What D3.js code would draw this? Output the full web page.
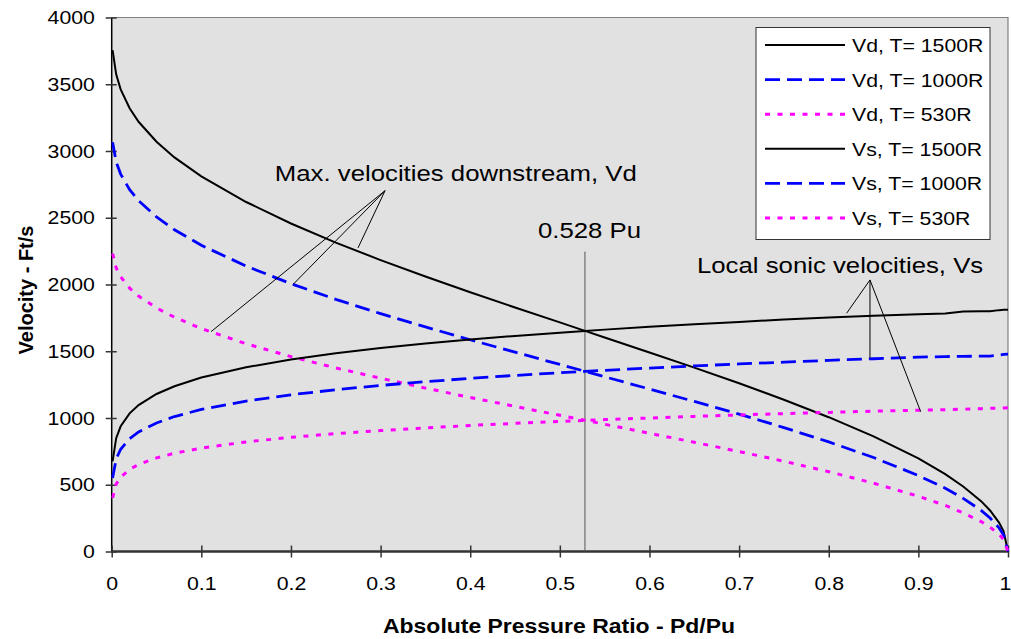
<!DOCTYPE html>
<html>
<head>
<meta charset="utf-8">
<script src="https://cdn.jsdelivr.net/npm/d3@7"></script>
<style>
  body { margin: 0; background: #fff; }
  svg { display: block; font-family: "Liberation Sans", Arial, sans-serif; }
</style>
</head>
<body>
<script>
// pressure ratio Pd/Pu, shared by every series
var ratio = [0.001, 0.005, 0.01, 0.02, 0.03, 0.05, 0.07, 0.1, 0.15, 0.2, 0.25, 0.3, 0.35, 0.4, 0.45, 0.5, 0.528, 0.55, 0.6, 0.65, 0.7, 0.75, 0.8, 0.85, 0.9, 0.93, 0.95, 0.97, 0.98, 0.99, 0.995, 1]

// max velocities downstream, Vd (ft/s)
var vd1500 = [3755, 3574, 3462, 3320, 3219, 3069, 2952, 2810, 2618, 2457, 2314, 2183, 2060, 1942, 1828, 1716, 1653, 1603, 1491, 1377, 1260, 1137, 1006, 862, 697, 580, 487, 377, 307, 217, 153, 0]
var vd1000 = [3066, 2918, 2827, 2711, 2628, 2506, 2410, 2294, 2138, 2006, 1889, 1782, 1682, 1586, 1493, 1401, 1350, 1309, 1217, 1124, 1029, 928, 821, 704, 569, 474, 398, 308, 251, 177, 125, 0]
var vd530 = [2232, 2124, 2058, 1973, 1913, 1824, 1755, 1670, 1556, 1460, 1375, 1298, 1224, 1154, 1087, 1020, 983, 953, 886, 818, 749, 676, 598, 512, 414, 345, 289, 224, 182, 129, 91, 0]

// local sonic velocities, Vs (ft/s)
var vs1500 = [675, 849, 938, 1035, 1097, 1180, 1238, 1303, 1380, 1438, 1485, 1524, 1558, 1588, 1615, 1639, 1652, 1662, 1683, 1702, 1720, 1737, 1753, 1765, 1778, 1782, 1797, 1799, 1800, 1808, 1810, 1810]
var vs1000 = [551, 693, 766, 845, 896, 963, 1011, 1064, 1127, 1174, 1212, 1244, 1272, 1297, 1319, 1339, 1349, 1357, 1374, 1390, 1405, 1418, 1432, 1444, 1456, 1460, 1462, 1463, 1464, 1472, 1476, 1478]
var vs530 = [401, 505, 557, 615, 652, 701, 736, 774, 821, 855, 883, 906, 926, 944, 960, 975, 982, 988, 1000, 1012, 1023, 1033, 1042, 1051, 1058, 1062, 1066, 1070, 1073, 1074, 1075, 1076]

var seriesNames = ["Vd, T= 1500R", "Vd, T= 1000R", "Vd, T= 530R", "Vs, T= 1500R", "Vs, T= 1000R", "Vs, T= 530R"]
var seriesValues = [vd1500, vd1000, vd530, vs1500, vs1000, vs530]
var seriesStyle = ["solid", "dash", "dot", "solid", "dash", "dot"]

var xTicks = [0, 0.1, 0.2, 0.3, 0.4, 0.5, 0.6, 0.7, 0.8, 0.9, 1]
var xTickLabels = ["0", "0.1", "0.2", "0.3", "0.4", "0.5", "0.6", "0.7", "0.8", "0.9", "1"]
var yTicks = [0, 500, 1000, 1500, 2000, 2500, 3000, 3500, 4000]

var criticalRatio = 0.528

// callouts, in data units
var maxNote = { text: "Max. velocities downstream, Vd", x: 0.182, y: 2778, from: [0.305, 2703], to: [[0.1109, 1647], [0.2026, 2002], [0.2748, 2274]] }
var sonicNote = { text: "Local sonic velocities, Vs", x: 0.653, y: 2086, from: [0.846, 2034], to: [[0.82, 1785], [0.846, 1450], [0.9026, 1047]] }
var critNote = { text: "0.528 Pu", x: 0.4756, y: 2349, top: 2246 }

var width = 1011
var height = 639
var margin = { left: 111.7, right: 3, top: 17.5, bottom: 87.5 }
var stretch = "scale(1.12,1)"

var svg = d3.select("body").append("svg")
  .attr("width", width)
  .attr("height", height)

var x = d3.scaleLinear().domain([0, 1]).range([margin.left, width - margin.right])
var y = d3.scaleLinear().domain([0, 4000]).range([height - margin.bottom, margin.top])

var styles = {
  solid: { color: "#000000", w: 2, dash: null },
  dash: { color: "#0000ff", w: 2.8, dash: "15,7" },
  dot: { color: "#ff00ff", w: 3, dash: "5,7.5" }
}

// plot area
svg.append("rect")
  .attr("x", x(0))
  .attr("y", y(4000))
  .attr("width", x(1) - x(0))
  .attr("height", y(0) - y(4000))
  .attr("fill", "#e1e1e1")
svg.append("path")
  .attr("d", "M" + x(0) + "," + y(4000) + "H" + x(1) + "V" + y(0))
  .attr("fill", "none")
  .attr("stroke", "#808080")
  .attr("stroke-width", 1.2)

// axes
var yAxis = svg.append("g")
  .attr("transform", "translate(" + x(0) + ",0)")
  .call(d3.axisLeft(y).tickValues(yTicks).tickSize(6).tickFormat(d3.format("d")))
yAxis.select(".domain").attr("stroke", "#000").attr("stroke-width", 1.5)
  .attr("d", "M0," + y(4000) + "V" + y(0))
yAxis.selectAll(".tick line").attr("x1", 5).attr("x2", -6).attr("stroke", "#333").attr("stroke-width", 1.5)
yAxis.selectAll(".tick text")
  .attr("x", -15)
  .attr("transform", stretch)
  .attr("font-size", 19)
  .attr("fill", "#000")

var xAxis = svg.append("g")
  .attr("transform", "translate(0," + y(0) + ")")
  .call(d3.axisBottom(x).tickValues(xTicks).tickSize(6).tickFormat(function (d, i) { return xTickLabels[i] }))
xAxis.select(".domain").attr("stroke", "#333").attr("stroke-width", 2.5)
  .attr("d", "M" + x(0) + ",0H" + x(1))
xAxis.selectAll(".tick line").attr("y1", -6).attr("y2", 6).attr("stroke", "#333").attr("stroke-width", 1.5)
xAxis.selectAll(".tick text")
  .attr("y", 25)
  .attr("transform", stretch)
  .attr("font-size", 19)
  .attr("fill", "#000")
// the last label sits against the page edge
xAxis.selectAll(".tick text").filter(function (d) { return d === 1 })
  .attr("text-anchor", "end")
  .attr("x", 2.5)

svg.append("text")
  .attr("transform", "translate(559,633)")
  .attr("text-anchor", "middle")
  .attr("font-size", 20)
  .attr("font-weight", "bold")
  .attr("textLength", 352)
  .attr("lengthAdjust", "spacingAndGlyphs")
  .text("Absolute Pressure Ratio - Pd/Pu")

svg.append("text")
  .attr("transform", "translate(33,290) rotate(-90)")
  .attr("text-anchor", "middle")
  .attr("font-size", 20)
  .attr("font-weight", "bold")
  .text("Velocity - Ft/s")

// 0.528 Pu marker
svg.append("line")
  .attr("x1", x(criticalRatio)).attr("x2", x(criticalRatio))
  .attr("y1", y(critNote.top)).attr("y2", y(0))
  .attr("stroke", "#555").attr("stroke-width", 1)

// curves
var line = d3.line()
  .x(function (d, i) { return x(ratio[i]) })
  .y(function (d) { return y(d) })

svg.append("g").selectAll("path")
  .data(seriesValues)
  .enter().append("path")
  .attr("d", line)
  .attr("fill", "none")
  .attr("stroke", function (d, i) { return styles[seriesStyle[i]].color })
  .attr("stroke-width", function (d, i) { return styles[seriesStyle[i]].w })
  .attr("stroke-dasharray", function (d, i) { return styles[seriesStyle[i]].dash })

// callouts
function callout(note) {
  note.to.forEach(function (p) {
    svg.append("line")
      .attr("x1", x(note.from[0])).attr("y1", y(note.from[1]))
      .attr("x2", x(p[0])).attr("y2", y(p[1]))
      .attr("stroke", "#000").attr("stroke-width", 1)
  })
  svg.append("text")
    .attr("transform", "translate(" + x(note.x) + "," + y(note.y) + ") " + stretch)
    .attr("font-size", 23)
    .text(note.text)
}
callout(maxNote)
callout(sonicNote)
svg.append("text")
  .attr("transform", "translate(" + x(critNote.x) + "," + y(critNote.y) + ") " + stretch)
  .attr("font-size", 23)
  .text(critNote.text)

// legend
var legend = svg.append("g").attr("transform", "translate(756,27.5)")
legend.append("rect")
  .attr("width", 234)
  .attr("height", 212)
  .attr("fill", "#fff")
  .attr("stroke", "#333")
  .attr("stroke-width", 1)

var rows = legend.selectAll("g.row")
  .data(seriesNames)
  .enter().append("g")
  .attr("class", "row")
  .attr("transform", function (d, i) { return "translate(0," + (17.5 + i * 34.6) + ")" })
rows.append("line")
  .attr("x1", 9).attr("x2", 89)
  .attr("stroke", function (d, i) { return styles[seriesStyle[i]].color })
  .attr("stroke-width", function (d, i) { return styles[seriesStyle[i]].w })
  .attr("stroke-dasharray", function (d, i) { return styles[seriesStyle[i]].dash })
rows.append("text")
  .attr("transform", "translate(96,7) " + stretch)
  .attr("font-size", 19)
  .text(function (d) { return d })
</script>
</body>
</html>
